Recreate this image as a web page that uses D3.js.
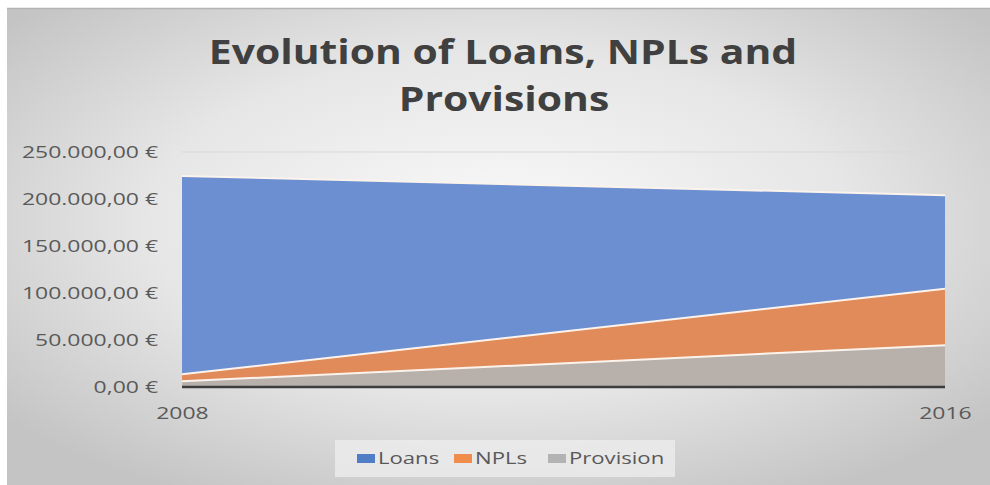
<!DOCTYPE html>
<html>
<head>
<meta charset="utf-8">
<script src="https://cdn.jsdelivr.net/npm/d3@7"></script>
<style>
  body { margin: 0; background: #fff; }
  svg { display: block; }
</style>
</head>
<body>
<svg id="chart" width="990" height="485"></svg>
<script>
// data
var years = [2008, 2016];
var loans = [224500, 204000];
var npls = [13500, 104500];
var provision = [6000, 44500];
var yTicks = [0, 50000, 100000, 150000, 200000, 250000];
var seriesNames = ["Loans", "NPLs", "Provision"];

var fillColors = ["#6b8fd0", "#e08b59", "#b8b1ab"];
var legendColors = ["#4f7ec6", "#f08c4c", "#b3b3b3"];

var svg = d3.select("#chart"),
    width = +svg.attr("width"),
    height = +svg.attr("height");

// the reference text is a bit wider than the fonts we have, so stretch it
function stretch(sel, factor) {
    sel.each(function() {
        var w = this.getComputedTextLength();
        d3.select(this)
            .attr("textLength", w * factor)
            .attr("lengthAdjust", "spacingAndGlyphs");
    });
}

var defs = svg.append("defs");
var grad = defs.append("radialGradient")
    .attr("id", "bg")
    .attr("cx", "50%").attr("cy", "45%")
    .attr("r", "65%");
grad.append("stop").attr("offset", "0%").attr("stop-color", "#f9f9f9");
grad.append("stop").attr("offset", "55%").attr("stop-color", "#e6e6e6");
grad.append("stop").attr("offset", "100%").attr("stop-color", "#c4c4c4");

// chart background
svg.append("rect")
    .attr("x", 7).attr("y", 8)
    .attr("width", width - 7).attr("height", height - 8)
    .attr("fill", "url(#bg)");
svg.append("line")
    .attr("x1", 7).attr("x2", width)
    .attr("y1", 8.5).attr("y2", 8.5)
    .attr("stroke", "#b4b4b4").attr("stroke-width", 1.5);

// title
var title = svg.append("g")
    .attr("font-family", "'Open Sans', sans-serif")
    .attr("font-weight", "bold")
    .attr("font-size", 33.5)
    .attr("fill", "#404040")
    .attr("text-anchor", "middle");
title.append("text").attr("x", 503).attr("y", 64).text("Evolution of Loans, NPLs and");
title.append("text").attr("x", 504).attr("y", 111).text("Provisions");
stretch(title.selectAll("text"), 1.22);

var x = d3.scaleLinear().domain([years[0], years[1]]).range([182, 945]);
var y = d3.scaleLinear().domain([0, 250000]).range([387, 152]);

// gridlines
svg.append("g")
    .selectAll("line")
    .data(yTicks.slice(1))
    .enter().append("line")
    .attr("x1", x(years[0])).attr("x2", x(years[1]))
    .attr("y1", function(d) { return y(d); })
    .attr("y2", function(d) { return y(d); })
    .attr("stroke", "#d9d9d9").attr("stroke-width", 1);

var fmt = function(d) {
    var s = d3.format(",.2f")(d);
    s = s.replace(/,/g, "#").replace(".", ",").replace(/#/g, ".");
    return s + " €";
};

// y axis (no line, just labels)
var yAxis = d3.axisLeft(y).tickValues(yTicks).tickSize(0).tickPadding(24).tickFormat(fmt);
var gy = svg.append("g").attr("transform", "translate(182,0)").call(yAxis);
gy.select(".domain").remove();
gy.selectAll("text")
    .attr("font-family", "'Open Sans', sans-serif")
    .attr("font-size", 17)
    .attr("fill", "#595959");
stretch(gy.selectAll("text"), 1.35);

// areas, drawn overlapping in series order
var allSeries = [loans, npls, provision];
var area = d3.area()
    .x(function(d, i) { return x(years[i]); })
    .y0(y(0))
    .y1(function(d) { return y(d); });
var line = d3.line()
    .x(function(d, i) { return x(years[i]); })
    .y(function(d) { return y(d); });

allSeries.forEach(function(s, k) {
    svg.append("path")
        .datum(s)
        .attr("d", area)
        .attr("fill", fillColors[k]);
    svg.append("path")
        .datum(s)
        .attr("d", line)
        .attr("fill", "none")
        .attr("stroke", "#fbf3ec")
        .attr("stroke-width", 2);
});

// baseline
svg.append("line")
    .attr("x1", x(years[0])).attr("x2", x(years[1]))
    .attr("y1", y(0)).attr("y2", y(0))
    .attr("stroke", "#3d3d3d").attr("stroke-width", 2.5);

// x axis labels
var xAxis = d3.axisBottom(x).tickValues(years).tickSize(0).tickPadding(20).tickFormat(d3.format("d"));
var gx = svg.append("g").attr("transform", "translate(0," + y(0) + ")").call(xAxis);
gx.select(".domain").remove();
gx.selectAll("text")
    .attr("font-family", "'Open Sans', sans-serif")
    .attr("font-size", 17)
    .attr("fill", "#595959");
stretch(gx.selectAll("text"), 1.35);

// legend
var legend = svg.append("g");
legend.append("rect")
    .attr("x", 335).attr("y", 440)
    .attr("width", 340).attr("height", 37)
    .attr("fill", "#ececec").attr("opacity", 0.8);
var legendX = [357, 454, 548];
var items = legend.selectAll("g.item")
    .data(seriesNames)
    .enter().append("g")
    .attr("class", "item")
    .attr("transform", function(d, i) { return "translate(" + legendX[i] + ",458)"; });
items.append("rect")
    .attr("x", 0).attr("y", -4)
    .attr("width", 18).attr("height", 9)
    .attr("fill", function(d, i) { return legendColors[i]; });
var legendText = items.append("text")
    .attr("x", 21).attr("y", 6)
    .attr("font-family", "'Open Sans', sans-serif")
    .attr("font-size", 17)
    .attr("fill", "#595959")
    .text(function(d) { return d; });
stretch(legendText, 1.3);
</script>
</body>
</html>
